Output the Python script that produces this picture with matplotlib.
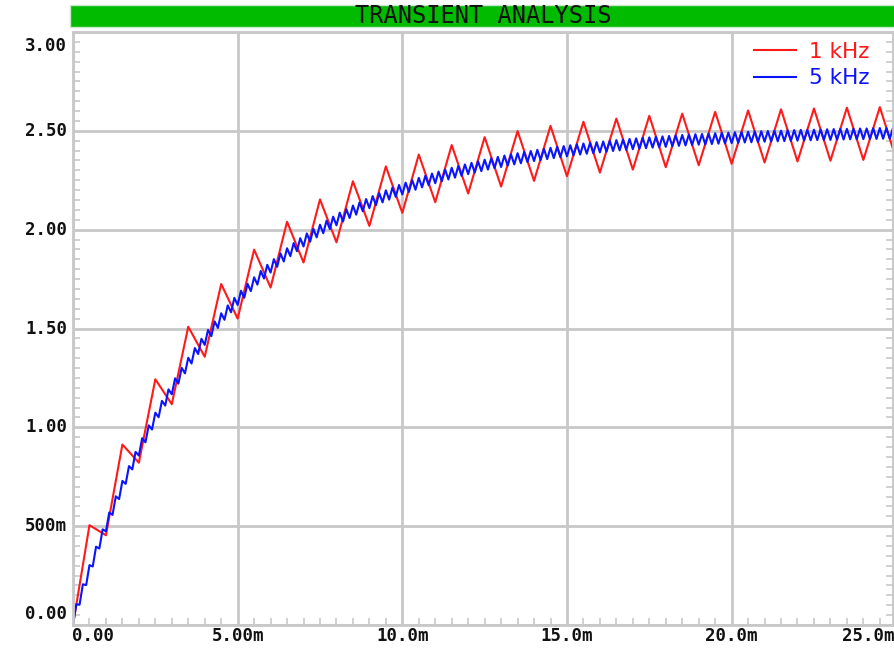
import matplotlib
matplotlib.use("Agg")
import matplotlib.pyplot as plt
from matplotlib.ticker import MultipleLocator
from matplotlib.patches import Rectangle
import numpy as np

# Đỉnh / đáy của điện áp trên tụ (V), mỗi nửa chu kỳ một điểm
# 1 kHz: đỉnh tại t = k - 0.5 ms, đáy tại t = k ms
red_hi = [0.505, 0.913, 1.243, 1.509, 1.725, 1.899, 2.040, 2.153, 2.245, 2.320,
          2.380, 2.428, 2.468, 2.499, 2.525, 2.546, 2.562, 2.576, 2.587, 2.596,
          2.603, 2.609, 2.613, 2.617, 2.620]
red_lo = [0.454, 0.821, 1.117, 1.357, 1.550, 1.707, 1.834, 1.936, 2.019, 2.085,
          2.139, 2.183, 2.218, 2.247, 2.270, 2.289, 2.304, 2.316, 2.326, 2.333,
          2.340, 2.345, 2.349, 2.353, 2.356]

# 5 kHz: đỉnh tại t = 0.2k - 0.1 ms, đáy tại t = 0.2k ms
blue_hi = [0.105, 0.206, 0.303, 0.396, 0.484, 0.569, 0.651, 0.729, 0.804, 0.876,
           0.945, 1.010, 1.074, 1.134, 1.192, 1.248, 1.301, 1.352, 1.401, 1.448,
           1.493, 1.536, 1.577, 1.617, 1.655, 1.691, 1.726, 1.759, 1.791, 1.822,
           1.851, 1.880, 1.906, 1.932, 1.957, 1.981, 2.004, 2.025, 2.046, 2.066,
           2.086, 2.104, 2.122, 2.138, 2.155, 2.170, 2.185, 2.199, 2.213, 2.226,
           2.238, 2.251, 2.262, 2.273, 2.284, 2.294, 2.304, 2.313, 2.322, 2.330,
           2.338, 2.346, 2.354, 2.361, 2.368, 2.375, 2.381, 2.387, 2.393, 2.398,
           2.404, 2.409, 2.414, 2.419, 2.423, 2.427, 2.432, 2.436, 2.439, 2.443,
           2.446, 2.450, 2.453, 2.456, 2.459, 2.462, 2.465, 2.467, 2.470, 2.472,
           2.474, 2.477, 2.479, 2.481, 2.483, 2.484, 2.486, 2.488, 2.490, 2.491,
           2.493, 2.494, 2.495, 2.497, 2.498, 2.499, 2.500, 2.501, 2.503, 2.504,
           2.505, 2.505, 2.506, 2.507, 2.508, 2.509, 2.510, 2.510, 2.511, 2.512,
           2.512, 2.513, 2.514, 2.514, 2.515]
blue_lo = [0.103, 0.202, 0.296, 0.387, 0.474, 0.557, 0.637, 0.714, 0.787, 0.857,
           0.924, 0.989, 1.051, 1.110, 1.167, 1.221, 1.273, 1.323, 1.371, 1.417,
           1.461, 1.503, 1.544, 1.582, 1.619, 1.655, 1.689, 1.722, 1.753, 1.783,
           1.812, 1.839, 1.866, 1.891, 1.915, 1.939, 1.961, 1.982, 2.003, 2.022,
           2.041, 2.059, 2.076, 2.093, 2.109, 2.124, 2.138, 2.152, 2.166, 2.178,
           2.191, 2.202, 2.214, 2.225, 2.235, 2.245, 2.254, 2.263, 2.272, 2.281,
           2.289, 2.296, 2.304, 2.311, 2.317, 2.324, 2.330, 2.336, 2.342, 2.347,
           2.352, 2.357, 2.362, 2.367, 2.371, 2.376, 2.380, 2.384, 2.387, 2.391,
           2.394, 2.398, 2.401, 2.404, 2.407, 2.409, 2.412, 2.415, 2.417, 2.419,
           2.422, 2.424, 2.426, 2.428, 2.430, 2.431, 2.433, 2.435, 2.436, 2.438,
           2.439, 2.441, 2.442, 2.443, 2.445, 2.446, 2.447, 2.448, 2.449, 2.450,
           2.451, 2.452, 2.453, 2.454, 2.454, 2.455, 2.456, 2.457, 2.457, 2.458,
           2.459, 2.459, 2.460, 2.460, 2.461]

x_ticks = [0, 5, 10, 15, 20, 25]
x_labels = ["0.00", "5.00m", "10.0m", "15.0m", "20.0m", "25.0m"]
y_ticks = [0, 0.5, 1.0, 1.5, 2.0, 2.5, 3.0]
y_labels = ["0.00", "500m", "1.00", "1.50", "2.00", "2.50", "3.00"]


def zigzag(hi, lo, period):
    # ghép đỉnh và đáy thành một đường gấp khúc, bắt đầu từ 0 V
    t = [0.0]
    v = [0.0]
    for k in range(len(hi)):
        t += [period * (k + 0.5), period * (k + 1)]
        v += [hi[k], lo[k]]
    return np.array(t), np.array(v)


t_red, v_red = zigzag(red_hi, red_lo, 1.0)
t_blue, v_blue = zigzag(blue_hi, blue_lo, 0.2)

W, H = 895, 655
fig = plt.figure(figsize=(W / 100, H / 100), dpi=100)
fig.patch.set_facecolor("white")
ax = fig.add_axes([73 / W, (H - 625) / H, 820 / W, 593 / H])

grid_c = "#c8c8c8"
ax.set_xlim(0, 24.9)
ax.set_ylim(0, 3.0)
ax.set_xticks(x_ticks[:-1])
ax.set_yticks(y_ticks)
ax.xaxis.set_minor_locator(MultipleLocator(0.5))
ax.yaxis.set_minor_locator(MultipleLocator(0.05))
ax.tick_params(which="major", length=0, labelleft=False, labelbottom=False)
ax.tick_params(which="minor", direction="in", length=5, width=1.2, color=grid_c,
               left=True, right=True, bottom=True, top=False)
ax.grid(True, which="major", color=grid_c, lw=2)
for s in ax.spines.values():
    s.set_color(grid_c)
    s.set_linewidth(2)

ax.plot(t_red, v_red, color="#ff1a1a", lw=1.5, label="1 kHz")
ax.plot(t_blue, v_blue, color="#0a14ff", lw=1.5, label="5 kHz")

# nhãn trục kiểu Proteus
tick_font = dict(family="DejaVu Sans Mono", weight="bold", size=12.5, color="#111111")
for v, lab in zip(y_ticks, y_labels):
    dy = 0
    va = "center"
    if v == 0:
        va, dy = "bottom", 2
    elif v == 3.0:
        va, dy = "top", -5
    ax.annotate(lab, (0, v), xycoords=("axes fraction", "data"),
                xytext=(-6, dy), textcoords="offset pixels",
                ha="right", va=va, **tick_font)
for x, lab in zip(x_ticks, x_labels):
    ha = "center"
    px = x
    dx = 0
    if x == 0:
        ha, dx = "left", -1
    elif x == 25:
        ha, px, dx = "right", 24.9, 2
    ax.annotate(lab, (px, 0), xycoords=("data", "axes fraction"),
                xytext=(dx, -11), textcoords="offset pixels",
                ha=ha, va="center", **tick_font)

# thanh tiêu đề màu xanh
fig.patches.append(Rectangle((70 / W, (H - 27) / H), 825 / W, 22 / H,
                             transform=fig.transFigure, facecolor="#00bb00",
                             edgecolor="#c8e8c8", lw=1))
fig.text(483 / W, (H - 16) / H, "TRANSIENT ANALYSIS", ha="center", va="center",
         family="DejaVu Sans Mono", size=17, color="#101010")

leg = ax.legend(loc="upper right", bbox_to_anchor=(880 / W, (H - 31) / H),
                bbox_transform=fig.transFigure, frameon=False,
                fontsize=15.5, handlelength=1.95, handletextpad=0.6,
                labelspacing=0.3, borderpad=0, labelcolor="linecolor")
for line in leg.get_lines():
    line.set_linewidth(1.5)

fig.savefig("out.png", dpi=100, facecolor="white")
